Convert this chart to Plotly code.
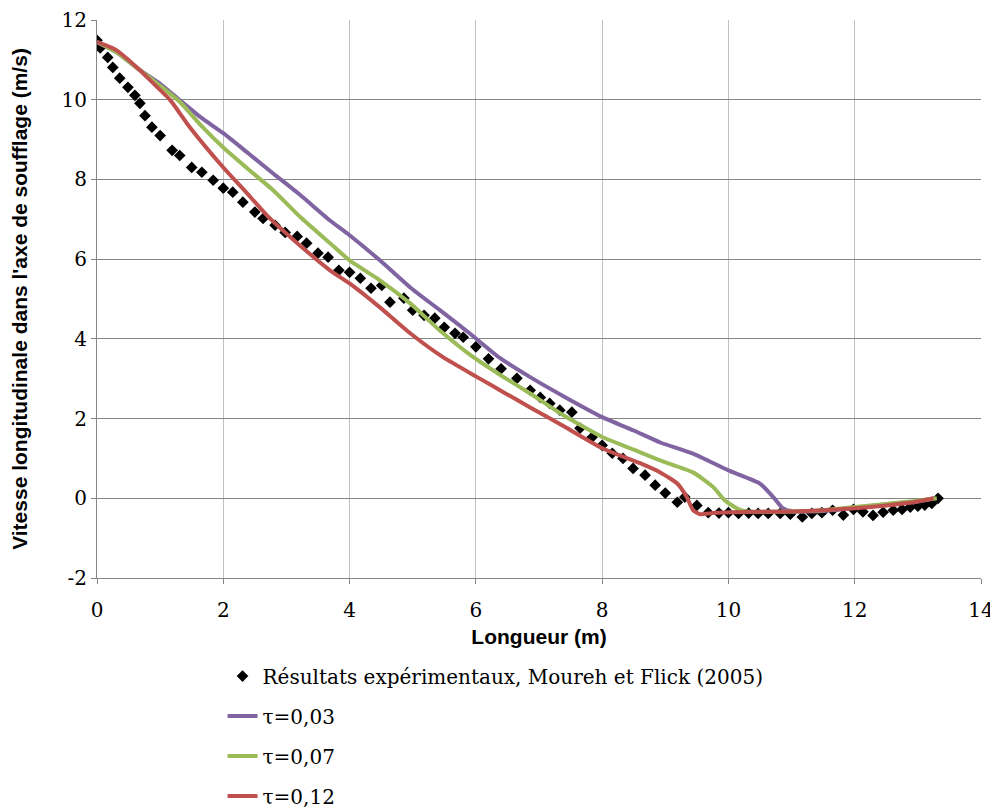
import plotly.graph_objects as go

exp_x = [0.0, 0.05, 0.17, 0.25, 0.36, 0.49, 0.6, 0.68, 0.76, 0.87, 1.0, 1.19, 1.31, 1.5, 1.66, 1.84, 2.0, 2.15, 2.31, 2.5,
         2.63, 2.82, 2.98, 3.17, 3.32, 3.5, 3.66, 3.83, 4.0, 4.17, 4.34, 4.51, 4.64, 4.86, 5.0, 5.18, 5.35, 5.5, 5.67, 5.8,
         6.0, 6.2, 6.4, 6.65, 6.86, 7.02, 7.17, 7.33, 7.52, 7.65, 7.84, 8.0, 8.16, 8.33, 8.49, 8.68, 8.84, 9.0, 9.19, 9.31,
         9.5, 9.68, 9.85, 10.0, 10.16, 10.32, 10.47, 10.63, 10.82, 10.98, 11.17, 11.32, 11.48, 11.65, 11.82, 11.98, 12.13,
         12.29, 12.45, 12.61, 12.75, 12.88, 13.0, 13.11, 13.22, 13.32]
exp_y = [11.49, 11.3, 11.06, 10.81, 10.54, 10.31, 10.11, 9.91, 9.6, 9.31, 9.1, 8.73, 8.6, 8.3, 8.18, 7.98, 7.78, 7.68, 7.43, 7.18,
         7.02, 6.85, 6.67, 6.57, 6.4, 6.15, 6.05, 5.72, 5.67, 5.52, 5.27, 5.34, 4.92, 5.02, 4.72, 4.59, 4.52, 4.29, 4.14, 4.04,
         3.8, 3.5, 3.25, 3.01, 2.71, 2.53, 2.38, 2.21, 2.16, 1.76, 1.53, 1.33, 1.13, 1.0, 0.75, 0.58, 0.33, 0.13, -0.1, 0.03,
         -0.18, -0.36, -0.37, -0.36, -0.38, -0.37, -0.38, -0.38, -0.38, -0.4, -0.47, -0.38, -0.36, -0.3, -0.42, -0.28, -0.34,
         -0.43, -0.35, -0.3, -0.28, -0.22, -0.2, -0.17, -0.13, 0.0]

t003_x = [0, 0.3, 0.68, 1.0, 1.31, 1.65, 2.0, 2.4, 2.79, 3.21, 3.69, 4.0, 4.48, 4.96, 5.43, 5.9, 6.38, 6.86, 7.4, 8.01,
          8.5, 8.92, 9.44, 10.0, 10.5, 10.71, 10.86, 11.0, 11.5, 12.0, 12.5, 13.0, 13.25]
t003_y = [11.45, 11.2, 10.74, 10.4, 9.99, 9.55, 9.16, 8.65, 8.15, 7.62, 6.97, 6.6, 5.97, 5.29, 4.72, 4.14, 3.52, 3.04,
          2.55, 2.03, 1.7, 1.4, 1.12, 0.7, 0.37, 0.03, -0.25, -0.33, -0.32, -0.24, -0.15, -0.08, 0.0]

t007_x = [0, 0.3, 0.68, 1.0, 1.31, 1.65, 2.0, 2.4, 2.79, 3.21, 3.69, 4.0, 4.48, 4.96, 5.43, 5.96, 6.38, 6.86, 7.4, 8.01,
          8.5, 8.92, 9.44, 9.76, 9.94, 10.13, 10.3, 11.0, 11.5, 12.0, 12.5, 13.0, 13.3]
t007_y = [11.45, 11.2, 10.74, 10.35, 9.95, 9.35, 8.8, 8.25, 7.73, 7.07, 6.4, 5.97, 5.47, 4.89, 4.21, 3.54, 3.1, 2.63,
          2.07, 1.53, 1.22, 0.95, 0.65, 0.28, -0.05, -0.25, -0.33, -0.33, -0.3, -0.22, -0.14, -0.06, 0.0]

t012_x = [0, 0.3, 0.68, 0.84, 1.16, 1.47, 2.0, 2.35, 2.69, 3.21, 3.69, 4.0, 4.48, 4.96, 5.48, 6.02, 6.45, 6.86, 7.4, 8.01,
          8.6, 8.92, 9.19, 9.34, 9.44, 9.55, 9.75, 10.03, 11.0, 11.5, 12.0, 12.5, 13.0, 13.25]
t012_y = [11.45, 11.25, 10.74, 10.49, 9.99, 9.31, 8.3, 7.7, 7.1, 6.35, 5.72, 5.39, 4.79, 4.14, 3.54, 3.04, 2.65, 2.28,
          1.8, 1.25, 0.88, 0.65, 0.37, 0.03, -0.3, -0.4, -0.37, -0.35, -0.33, -0.3, -0.25, -0.18, -0.08, 0.0]

x_ticks = [0, 2, 4, 6, 8, 10, 12, 14]
y_ticks = [-2, 0, 2, 4, 6, 8, 10, 12]
y_ticktext = ["-2", "0", "2", "4", "6", "8", "10", "12"]

serif = "DejaVu Serif"
sans = "Liberation Sans"

fig = go.Figure()
fig.add_trace(go.Scatter(x=exp_x, y=exp_y, mode="markers", name="Résultats expérimentaux, Moureh et Flick (2005)",
                         marker=dict(symbol="diamond", color="black", size=9), legendgroup="a"))
fig.add_trace(go.Scatter(x=t003_x, y=t003_y, mode="lines", name="τ=0,03",
                         line=dict(color="#8064A2", width=4, shape="spline", smoothing=0.5), legendgroup="b"))
fig.add_trace(go.Scatter(x=t007_x, y=t007_y, mode="lines", name="τ=0,07",
                         line=dict(color="#9BBB59", width=4, shape="spline", smoothing=0.5), legendgroup="c"))
fig.add_trace(go.Scatter(x=t012_x, y=t012_y, mode="lines", name="τ=0,12",
                         line=dict(color="#C0504D", width=4, shape="spline", smoothing=0.5), legendgroup="d"))

fig.update_layout(
    width=990, height=800,
    margin=dict(l=89, r=17, t=12, b=230),
    paper_bgcolor="white", plot_bgcolor="white",
    font=dict(family=serif, size=20, color="black"),
    showlegend=True,
    legend=dict(x=0.142, y=0.18925, xanchor="left", yanchor="top", yref="container", orientation="v",
                font=dict(family=serif, size=20), tracegroupgap=11, traceorder="grouped",
                bgcolor="rgba(0,0,0,0)"),
    xaxis=dict(range=[0, 14], tickvals=x_ticks, showgrid=True, gridcolor="#BFBFBF", gridwidth=1,
               showline=True, linecolor="#868686", linewidth=1, ticks="outside", ticklen=5, tickcolor="#868686",
               zeroline=False, tickfont=dict(family=serif, size=20), automargin=False, ticklabelstandoff=9,
               title=dict(text="<b>Longueur (m)</b>", font=dict(family=sans, size=21), standoff=8)),
    yaxis=dict(range=[-2, 12], tickvals=y_ticks, ticktext=y_ticktext, showgrid=True, gridcolor="#868686", gridwidth=1,
               showline=True, linecolor="#868686", linewidth=1, ticks="outside", ticklen=5, tickcolor="#868686",
               zeroline=False, tickfont=dict(family=serif, size=20), automargin=False,
               title=dict(text="<b>Vitesse longitudinale dans l'axe de soufflage (m/s)</b>",
                          font=dict(family=sans, size=21), standoff=33)),
)

fig.write_html("out.html")
